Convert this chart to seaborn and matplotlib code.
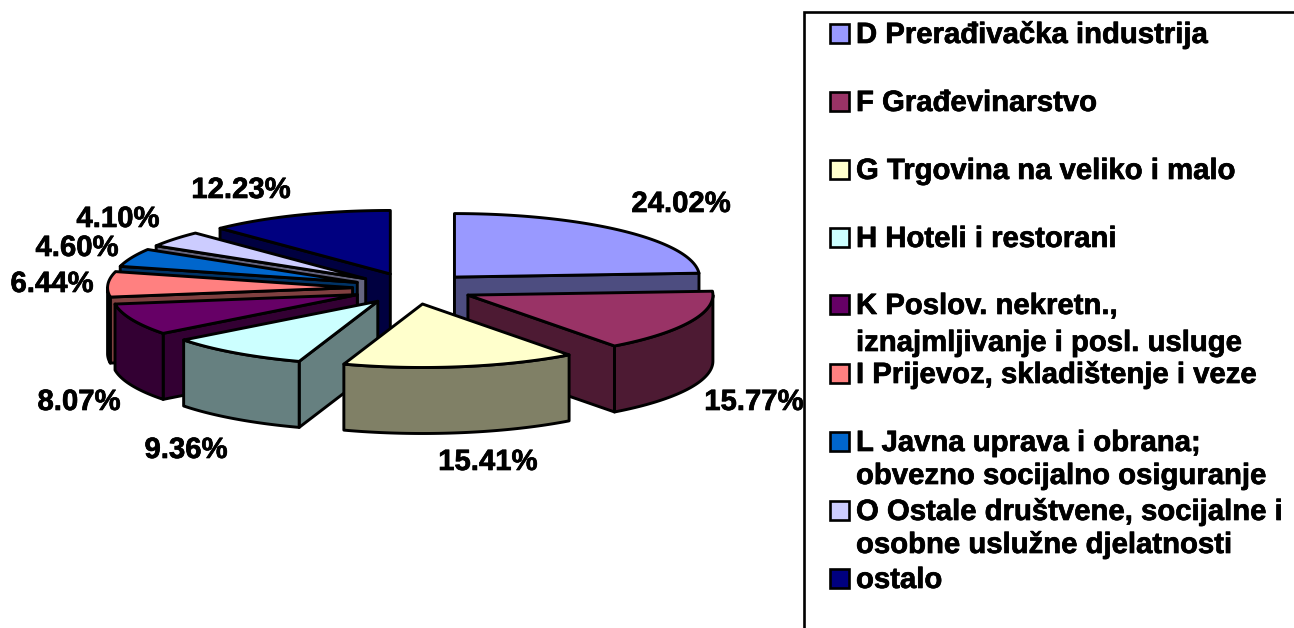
import numpy as np
import matplotlib
matplotlib.use("Agg")
import matplotlib.pyplot as plt
import matplotlib.patheffects as pe
import seaborn as sns

from matplotlib.patches import Polygon, Rectangle

values = [24.02, 15.77, 15.41, 9.36, 8.07, 6.44, 4.60, 4.10, 12.23]
top_colors = ["#9999FF", "#993366", "#FFFFCC", "#CCFFFF", "#660066",
              "#FF8080", "#0066CC", "#CCCCFF", "#000080"]
legend_lines = [
    ["D Prerađivačka industrija"],
    ["F Građevinarstvo"],
    ["G Trgovina na veliko i malo"],
    ["H Hoteli i restorani"],
    ["K Poslov. nekretn.,", "iznajmljivanje i posl. usluge"],
    ["I Prijevoz, skladištenje i veze"],
    ["L Javna uprava i obrana;", "obvezno socijalno osiguranje"],
    ["O Ostale društvene, socijalne i", "osobne uslužne djelatnosti"],
    ["ostalo"],
]

# label centres and legend baselines, in pixels
label_pos = [(681, 204), (754, 402), (488, 462), (186, 450), (79, 402),
             (52, 284), (77, 248), (118, 219), (241, 190)]
legend_base = [[43], [111], [179], [247], [314, 351], [383], [451, 484], [520, 553], [588]]

sns.set_theme(style="white")
plt.rcParams["font.family"] = ["Liberation Sans", "DejaVu Sans"]

cx, cy = 413, 288.5
rx, ry = 245, 63.5
depth = 66
explode = 0.247
lw = 2.1
fsize = 21.1
bolder = [pe.withStroke(linewidth=0.5, foreground="black")]

palette = sns.color_palette(top_colors)

fig = plt.figure(figsize=(12.94, 6.28), dpi=100)
ax = fig.add_axes([0, 0, 1, 1])
ax.set_xlim(0, 1294)
ax.set_ylim(628, 0)
ax.axis("off")


def rim(x0, y0, a):
    # angle in degrees, clockwise from 12 o'clock
    a = np.radians(a)
    return x0 + rx * np.sin(a), y0 - ry * np.cos(a)


def draw_face(pts, color, z):
    ax.add_patch(Polygon(pts, closed=True, facecolor=color, edgecolor="black",
                         lw=lw, joinstyle="round", zorder=z))


edges = np.cumsum([0] + values) * 3.6
mids = (edges[:-1] + edges[1:]) / 2
apex_x = cx + explode * rx * np.sin(np.radians(mids))
apex_y = cy - explode * ry * np.cos(np.radians(mids))

# back slices first, the front ones paint over them
order = np.argsort(apex_y)
z = 2
for i in order:
    a1, a2 = edges[i], edges[i + 1]
    x0, y0 = apex_x[i], apex_y[i]
    top = palette[i]
    side = tuple(c * 0.5 for c in top)

    # flat inner walls
    for a, show in [(a1, a1 > 180), (a2, a2 < 180)]:
        if show:
            x1, y1 = rim(x0, y0, a)
            draw_face([(x0, y0), (x1, y1), (x1, y1 + depth), (x0, y0 + depth)], side, z)
            z += 1

    # outer curved wall, only the part facing us
    b1, b2 = max(a1, 90), min(a2, 270)
    if b1 < b2:
        xs, ys = rim(x0, y0, np.linspace(b1, b2, 60))
        pts = list(zip(xs, ys)) + list(zip(xs[::-1], ys[::-1] + depth))
        draw_face(pts, side, z)
        z += 1

    xs, ys = rim(x0, y0, np.linspace(a1, a2, 80))
    draw_face([(x0, y0)] + list(zip(xs, ys)), top, z)
    z += 1

for v, (lx, ly) in zip(values, label_pos):
    ax.text(lx, ly, f"{v:.2f}%", ha="center", va="center", fontsize=fsize,
            fontweight="bold", color="black", zorder=100, path_effects=bolder)

# legend frame runs off the right and bottom of the picture
ax.plot([804, 804, 1294], [628, 12, 12], color="black", lw=1.9, clip_on=True,
        solid_joinstyle="miter", zorder=100)

for color, lines, bases in zip(palette, legend_lines, legend_base):
    ax.add_patch(Rectangle((830, bases[0] - 19.5), 19, 19, facecolor=color,
                           edgecolor="black", lw=1.9, zorder=100))
    for line, base in zip(lines, bases):
        ax.text(856, base, line, ha="left", va="baseline", fontsize=fsize,
                fontweight="bold", color="black", zorder=100, path_effects=bolder)

fig.savefig("out.png", dpi=100)
